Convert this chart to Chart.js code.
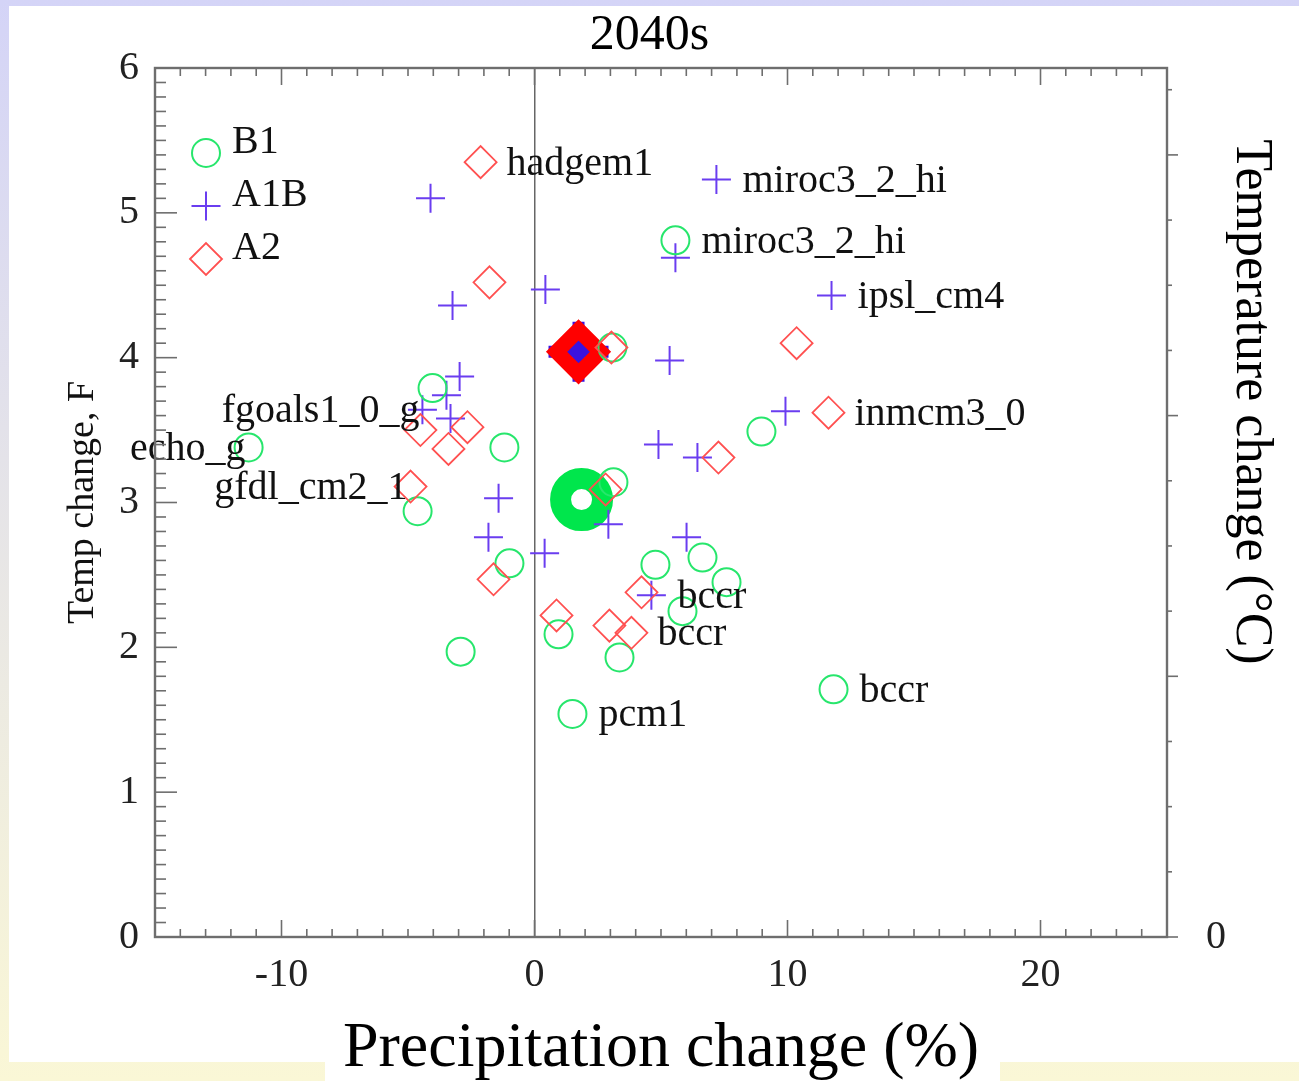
<!DOCTYPE html>
<html>
<head>
<meta charset="utf-8">
<script src="https://cdn.jsdelivr.net/npm/chart.js@4.4.1/dist/chart.umd.min.js"></script>
<style>
html, body { margin: 0; padding: 0; }
#page { position: relative; width: 1299px; height: 1081px; overflow: hidden;
  background: linear-gradient(to bottom, #d4d4f7, #faf7d6); }
#sheet { position: absolute; left: 9px; top: 6px; width: 1290px; height: 1056px; background: #fff; }
#tab { position: absolute; left: 325px; top: 1062px; width: 675px; height: 19px; background: #fff; }
canvas { position: absolute; left: 0; top: 0; }
</style>
</head>
<body>
<div id="page">
  <div id="sheet"></div>
  <div id="tab"></div>
  <canvas id="chart" width="1299" height="1081"></canvas>
</div>
<script>
// values: precipitation change (%), temperature change (F)
var b1Precip = [-4.03, -4.62, -11.30, -1.19, -0.99, -2.92, 0.95, 1.50, 3.08, 3.12, 3.36, 4.78, 5.85, 6.64, 7.59, 5.57, 8.97, 11.82];
var b1Temp   = [3.79, 2.94, 3.38, 3.38, 2.58, 1.97, 2.09, 1.54, 4.07, 3.14, 1.93, 2.57, 2.25, 2.62, 2.45, 4.81, 3.49, 1.71];

var a1bPrecip = [-4.11, -3.24, 0.43, -2.96, -3.48, -3.32, -4.43, -1.42, -1.82, 0.40, 2.92, 4.90, 6.44, 6.01, 4.62, 7.19, 5.57, 11.74, 5.34, 9.92];
var a1bTemp   = [5.10, 4.36, 4.47, 3.87, 3.74, 3.58, 3.64, 3.03, 2.76, 2.65, 2.85, 3.40, 3.31, 2.76, 2.36, 5.23, 4.69, 4.43, 3.98, 3.63];

var a2Precip = [-2.13, -1.78, -4.51, -3.40, -2.65, -4.90, -1.62, 0.87, 2.96, 3.83, 4.23, 2.81, 7.27, 10.36, 11.62, 3.04];
var a2Temp   = [5.35, 4.52, 3.50, 3.37, 3.52, 3.11, 2.47, 2.22, 2.15, 2.10, 2.38, 3.09, 3.31, 4.10, 3.62, 4.07];

var b1MeanPrecip = [1.86],  b1MeanTemp = [3.02];
var a1bMeanPrecip = [1.74], a1bMeanTemp = [4.04];
var a2MeanPrecip = [1.74],  a2MeanTemp = [4.04];

var modelNames  = ['hadgem1', 'miroc3_2_hi', 'miroc3_2_hi', 'ipsl_cm4', 'inmcm3_0', 'bccr', 'bccr', 'bccr', 'pcm1', 'fgoals1_0_g', 'echo_g', 'gfdl_cm2_1'];
var modelPrecip = [-2.13, 7.19, 5.57, 11.74, 11.62, 4.62, 3.83, 11.82, 1.50, -4.43, -11.30, -4.90];
var modelTemp   = [5.35, 5.23, 4.81, 4.43, 3.62, 2.36, 2.10, 1.71, 1.54, 3.64, 3.38, 3.11];
var modelSide   = ['r', 'r', 'r', 'r', 'r', 'r', 'r', 'r', 'r', 'l', 'l', 'l'];

var scenarios = ['B1', 'A1B', 'A2'];
var xTicks = [-10, 0, 10, 20];
var yTicks = [0, 1, 2, 3, 4, 5, 6];
var yRightTicks = [0];

var serif = '"Liberation Serif", "DejaVu Serif", serif';
var green = '#27e66c', blue = '#6a3df0', red = '#ff5050';

function pts(xs, ys) {
  return xs.map(function(x, i) { return { x: x, y: ys[i] }; });
}

// inward ticks, minor ticks and the box round the plot
var framePlugin = {
  id: 'frame',
  afterDraw: function(chart) {
    var ctx = chart.ctx, a = chart.chartArea;
    var sx = chart.scales.x, sy = chart.scales.y, sy2 = chart.scales.y2;
    ctx.save();
    ctx.strokeStyle = '#6e6e6e';
    ctx.lineWidth = 1.6;
    function seg(x1, y1, x2, y2) { ctx.beginPath(); ctx.moveTo(x1, y1); ctx.lineTo(x2, y2); ctx.stroke(); }
    for (var v = sx.min; v <= sx.max; v++) {
      var px = sx.getPixelForValue(v), len = v % 10 === 0 ? 17 : 8;
      seg(px, a.bottom, px, a.bottom - len);
      seg(px, a.top, px, a.top + len);
    }
    for (var k = 0; k <= 60; k++) {
      var py = sy.getPixelForValue(k / 10), l2 = k % 10 === 0 ? 22 : 11;
      seg(a.left, py, a.left + l2, py);
    }
    for (var m = 0; m / 4 <= sy2.max; m++) {
      var qy = sy2.getPixelForValue(m / 4), l3 = m % 4 === 0 ? 11 : 5;
      seg(a.right, qy, a.right + l3, qy);
    }
    ctx.lineWidth = 2.4;
    ctx.strokeRect(a.left, a.top, a.right - a.left, a.bottom - a.top);

    // right axis title
    ctx.fillStyle = '#000';
    ctx.font = '52px ' + serif;
    ctx.textAlign = 'center';
    ctx.textBaseline = 'middle';
    ctx.translate(a.right + 84, a.top + 334);
    ctx.rotate(Math.PI / 2);
    ctx.fillText('Temperature change (\u00B0C)', 0, 0);
    ctx.restore();
  }
};

// model names beside their points
var namesPlugin = {
  id: 'names',
  afterDatasetsDraw: function(chart) {
    var ctx = chart.ctx, sx = chart.scales.x, sy = chart.scales.y;
    ctx.save();
    ctx.fillStyle = '#111';
    ctx.font = '40px ' + serif;
    ctx.textBaseline = 'middle';
    modelNames.forEach(function(name, i) {
      var px = sx.getPixelForValue(modelPrecip[i]);
      var py = sy.getPixelForValue(modelTemp[i]) + 2;
      if (modelSide[i] === 'r') {
        ctx.textAlign = 'left';
        ctx.fillText(name, px + 26, py);
      } else {
        ctx.textAlign = 'right';
        ctx.fillText(name, px - 3, py);
      }
    });
    ctx.restore();
  }
};

// scenario key in the top left corner
var keyPlugin = {
  id: 'key',
  afterDatasetsDraw: function(chart) {
    var ctx = chart.ctx, a = chart.chartArea;
    var sets = chart.data.datasets;
    ctx.save();
    scenarios.forEach(function(name, i) {
      var ds = sets.filter(function(d) { return d.label === name; })[0];
      var cx = a.left + 51, cy = a.top + 85 + i * 53;
      ctx.strokeStyle = ds.borderColor;
      ctx.lineWidth = ds.borderWidth;
      ctx.beginPath();
      var r = ds.pointRadius;
      if (ds.pointStyle === 'circle') {
        ctx.arc(cx, cy, r, 0, Math.PI * 2);
      } else if (ds.pointStyle === 'cross') {
        ctx.moveTo(cx - r, cy); ctx.lineTo(cx + r, cy);
        ctx.moveTo(cx, cy - r); ctx.lineTo(cx, cy + r);
      } else {
        ctx.moveTo(cx - r, cy); ctx.lineTo(cx, cy - r);
        ctx.lineTo(cx + r, cy); ctx.lineTo(cx, cy + r);
        ctx.closePath();
      }
      ctx.stroke();
      ctx.fillStyle = '#111';
      ctx.font = '40px ' + serif;
      ctx.textAlign = 'left';
      ctx.textBaseline = 'middle';
      ctx.fillText(name, cx + 26, cy - 11);
    });
    ctx.restore();
  }
};

new Chart(document.getElementById('chart'), {
  type: 'scatter',
  data: {
    datasets: [
      { label: 'A2', data: pts(a2Precip, a2Temp), pointStyle: 'rectRot', pointRadius: 16,
        borderColor: red, backgroundColor: 'transparent', borderWidth: 1.8 },
      { label: 'B1', data: pts(b1Precip, b1Temp), pointStyle: 'circle', pointRadius: 14,
        borderColor: green, backgroundColor: 'transparent', borderWidth: 2 },
      { label: 'A1B', data: pts(a1bPrecip, a1bTemp), pointStyle: 'cross', pointRadius: 14.5,
        borderColor: blue, backgroundColor: 'transparent', borderWidth: 2 },
      { label: 'A2 mean', data: pts(a2MeanPrecip, a2MeanTemp), pointStyle: 'rectRot', pointRadius: 22,
        borderColor: '#ff0000', backgroundColor: 'transparent', borderWidth: 15 },
      { label: 'A1B mean', data: pts(a1bMeanPrecip, a1bMeanTemp), pointStyle: 'cross', pointRadius: 30,
        borderColor: '#3a12e0', backgroundColor: 'transparent', borderWidth: 12 },
      { label: 'B1 mean', data: pts(b1MeanPrecip, b1MeanTemp), pointStyle: 'circle', pointRadius: 21,
        borderColor: '#00e64c', backgroundColor: 'transparent', borderWidth: 21 }
    ]
  },
  options: {
    responsive: false,
    animation: false,
    layout: { padding: 0 },
    plugins: {
      legend: { display: false },
      tooltip: { enabled: false },
      title: {
        display: true, text: '2040s', color: '#000',
        font: { family: serif, size: 50, weight: 'normal', lineHeight: 1.2 },
        padding: { top: 6, bottom: 2 }
      }
    },
    scales: {
      x: {
        type: 'linear', position: 'bottom', min: -15, max: 25,
        afterBuildTicks: function(s) { s.ticks = xTicks.map(function(v) { return { value: v }; }); },
        afterFit: function(s) { s.height = 144; },
        ticks: { padding: 14, color: '#222', font: { family: serif, size: 40 },
          callback: function(v) { return String(v); } },
        grid: { drawTicks: false, lineWidth: 1.5,
          color: function(c) { return c.tick && c.tick.value === 0 ? '#666' : 'rgba(0,0,0,0)'; } },
        border: { display: false },
        title: { display: true, text: 'Precipitation change (%)', color: '#000',
          font: { family: serif, size: 64, lineHeight: 1 }, padding: 0 }
      },
      y: {
        type: 'linear', position: 'left', min: 0, max: 6,
        afterBuildTicks: function(s) { s.ticks = yTicks.map(function(v) { return { value: v }; }); },
        afterFit: function(s) { s.width = 155; },
        ticks: { padding: 8, color: '#222', font: { family: serif, size: 40 },
          callback: function(v) { return String(v); } },
        grid: { display: false },
        border: { display: false },
        title: { display: true, text: 'Temp change, F', color: '#111',
          font: { family: serif, size: 38, lineHeight: 1 }, padding: { top: 64, bottom: 0 } }
      },
      y2: {
        type: 'linear', position: 'right', min: 0, max: 6 / 1.8,
        afterBuildTicks: function(s) { s.ticks = yRightTicks.map(function(v) { return { value: v }; }); },
        afterFit: function(s) { s.width = 132; },
        ticks: { padding: 31, color: '#222', font: { family: serif, size: 40 },
          callback: function(v) { return String(v); } },
        grid: { display: false },
        border: { display: false }
      }
    }
  },
  plugins: [framePlugin, namesPlugin, keyPlugin]
});
</script>
</body>
</html>
